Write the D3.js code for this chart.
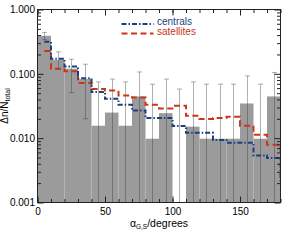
<!DOCTYPE html>
<html>
<head>
<meta charset="utf-8">
<script src="https://cdnjs.cloudflare.com/ajax/libs/d3/7.8.5/d3.min.js"></script>
<style>
body { margin: 0; background: #fff; }
text { font-family: "Liberation Sans", Arial, sans-serif; }
</style>
</head>
<body>
<div id="chart"></div>
<script>
//DATA: 10 degree bins, fractions of the total
var binCentres = [5, 15, 25, 35, 45, 55, 65, 75, 85, 95, 105, 115, 125, 135, 145, 155, 165, 175];
var allFrac = [0.39, 0.165, 0.12, 0.083, 0.0156, 0.025, 0.0156, 0.0445, 0.0098, 0.0245, 0,
               0.0151, 0.0098, 0.0098, 0.0098, 0.0346, 0.0098, 0.0445];
var errHigh = [0.44, 0.22, 0.169, 0.141, 0.075, 0.083, 0.075, 0.107, 0.069, 0.083, 0.058,
               0.075, 0.069, 0.069, 0.069, 0.093, 0.069, 0.105];
var errLow = [0.34, 0.118, 0.051, 0.020, 0, 0, 0, 0, 0, 0, 0, 0, 0, 0, 0, 0, 0, 0];

//step lines have one extra point past 180, only its drop at the edge is seen
var lineAngles = [5, 15, 25, 35, 45, 55, 65, 75, 85, 95, 105, 115, 125, 135, 145, 155, 165, 175, 185];
var centrals = [0.315, 0.172, 0.13, 0.085, 0.052, 0.041, 0.033, 0.027, 0.0205, 0.0205, 0.0155,
                0.0121, 0.0121, 0.0094, 0.0085, 0.0085, 0.0054, 0.0049, 0.002];
var satellites = [0.227, 0.12, 0.11, 0.072, 0.058, 0.055, 0.046, 0.043, 0.033, 0.029, 0.032,
                  0.0223, 0.0198, 0.0205, 0.0216, 0.0156, 0.0113, 0.0079, 0.006];

var xTicks = [0, 50, 100, 150];
var xMinor = d3.range(0, 181, 10);
var yTicks = [0.001, 0.01, 0.1, 1];
var yTickLabels = ["0.001", "0.010", "0.100", "1.000"];

var W = 293, H = 241;
var plot = {left: 37.5, right: 280.5, top: 9.5, bottom: 202.5};

var svg = d3.select("#chart").append("svg")
  .attr("width", W)
  .attr("height", H);

var xScale = d3.scaleLinear().domain([0, 180]).range([plot.left, plot.right]);
var yScale = d3.scaleLog().domain([0.001, 1]).range([plot.bottom, plot.top]);

var yMinor = [];
[0.001, 0.01, 0.1].forEach(function(d) {
  for (var k = 2; k <= 9; k++) yMinor.push(d * k);
});

svg.append("clipPath").attr("id", "clip")
  .append("rect")
  .attr("x", plot.left).attr("y", plot.top)
  .attr("width", plot.right - plot.left)
  .attr("height", plot.bottom - plot.top);

//GREY HISTOGRAM
svg.append("g").selectAll("rect")
  .data(binCentres.filter(function(d, i) { return allFrac[i] > 0; }))
  .enter().append("rect")
  .attr("x", function(d) { return xScale(d - 5); })
  .attr("width", function(d) { return xScale(d + 5) - xScale(d - 5); })
  .attr("y", function(d) { return yScale(allFrac[binCentres.indexOf(d)]); })
  .attr("height", function(d) { return plot.bottom - yScale(allFrac[binCentres.indexOf(d)]); })
  .attr("fill", "#9b9b9b");

//ERROR BARS
var errG = svg.append("g").attr("clip-path", "url(#clip)")
  .attr("stroke", "rgba(50,50,50,0.38)").attr("stroke-width", 1);

binCentres.forEach(function(c, i) {
  var x = Math.round(xScale(c)) + 0.5;
  var yTop = yScale(errHigh[i]);
  var yBot = errLow[i] > 0 ? yScale(errLow[i]) : plot.bottom;
  errG.append("line").attr("x1", x).attr("x2", x).attr("y1", yTop).attr("y2", yBot);
  errG.append("line").attr("x1", x - 2.5).attr("x2", x + 2.5).attr("y1", yTop).attr("y2", yTop);
  if (errLow[i] > 0) {
    errG.append("line").attr("x1", x - 2.5).attr("x2", x + 2.5).attr("y1", yBot).attr("y2", yBot);
  }
});

//STEP LINES
var step = d3.line()
  .x(function(d) { return xScale(d[0]); })
  .y(function(d) { return yScale(d[1]); })
  .curve(d3.curveStep);

var blue = "#1c3f7e", red = "#cc3518";
var blueDash = "5,2,1.5,2", redDash = "6,3.5";

svg.append("path")
  .attr("clip-path", "url(#clip)")
  .attr("d", step(lineAngles.map(function(a, i) { return [a, satellites[i]]; })))
  .attr("fill", "none").attr("stroke", red).attr("stroke-width", 2)
  .attr("stroke-dasharray", redDash);

svg.append("path")
  .attr("clip-path", "url(#clip)")
  .attr("d", step(lineAngles.map(function(a, i) { return [a, centrals[i]]; })))
  .attr("fill", "none").attr("stroke", blue).attr("stroke-width", 2)
  .attr("stroke-dasharray", blueDash);

//AXES (ticks point inwards, frame drawn separately)
function styleAxis(g) {
  g.select(".domain").remove();
  g.selectAll(".tick line").attr("stroke", "#222");
  g.selectAll("text").attr("font-size", 10).attr("fill", "#000")
    .attr("font-family", "'Liberation Sans', Arial, sans-serif");
}

svg.append("g").attr("transform", "translate(0," + plot.bottom + ")")
  .call(d3.axisBottom(xScale).tickValues(xMinor).tickSize(-3.5).tickFormat(""))
  .call(styleAxis);
svg.append("g").attr("transform", "translate(0," + plot.bottom + ")")
  .call(d3.axisBottom(xScale).tickValues(xTicks).tickSize(-6).tickPadding(5.5).tickFormat(d3.format("d")))
  .call(styleAxis);
svg.append("g").attr("transform", "translate(0," + plot.top + ")")
  .call(d3.axisTop(xScale).tickValues(xMinor).tickSize(-3.5).tickFormat(""))
  .call(styleAxis);
svg.append("g").attr("transform", "translate(0," + plot.top + ")")
  .call(d3.axisTop(xScale).tickValues(xTicks).tickSize(-6).tickFormat(""))
  .call(styleAxis);

svg.append("g").attr("transform", "translate(" + plot.left + ",0)")
  .call(d3.axisLeft(yScale).tickValues(yMinor).tickSize(-3.5).tickFormat(""))
  .call(styleAxis);
svg.append("g").attr("transform", "translate(" + plot.left + ",0)")
  .call(d3.axisLeft(yScale).tickValues(yTicks).tickSize(-6).tickPadding(2.5)
    .tickFormat(function(d, i) { return yTickLabels[i]; }))
  .call(styleAxis);
svg.append("g").attr("transform", "translate(" + plot.right + ",0)")
  .call(d3.axisRight(yScale).tickValues(yMinor).tickSize(-3.5).tickFormat(""))
  .call(styleAxis);
svg.append("g").attr("transform", "translate(" + plot.right + ",0)")
  .call(d3.axisRight(yScale).tickValues(yTicks).tickSize(-6).tickFormat(""))
  .call(styleAxis);

svg.append("rect")
  .attr("x", plot.left).attr("y", plot.top)
  .attr("width", plot.right - plot.left).attr("height", plot.bottom - plot.top)
  .attr("fill", "none").attr("stroke", "#222").attr("stroke-width", 1);

//AXIS LABELS
var xLab = svg.append("text")
  .attr("x", (plot.left + plot.right) / 2).attr("y", 227)
  .attr("text-anchor", "middle").attr("font-size", 10.5);
xLab.append("tspan").text("\u03b1");
xLab.append("tspan").attr("font-size", 6.5).attr("dy", 2).text("G,S");
xLab.append("tspan").attr("dy", -2).text("/degrees");

var yLab = svg.append("text")
  .attr("transform", "translate(8," + (plot.top + plot.bottom) / 2 + ") rotate(-90)")
  .attr("text-anchor", "middle").attr("font-size", 10);
yLab.append("tspan").text("\u0394n/N");
yLab.append("tspan").attr("font-size", 7).attr("dy", 2).text("total");

//LEGEND
var legend = [
  {name: "centrals", color: blue, dash: blueDash, y: 25},
  {name: "satellites", color: red, dash: redDash, y: 34.5}
];
legend.forEach(function(d) {
  svg.append("line")
    .attr("x1", 121.5).attr("x2", 153.5)
    .attr("y1", d.y - 1).attr("y2", d.y - 1)
    .attr("stroke", d.color).attr("stroke-width", 2)
    .attr("stroke-dasharray", d.dash);
  svg.append("text")
    .attr("x", 157).attr("y", d.y)
    .attr("font-size", 10).attr("fill", d.color)
    .text(d.name);
});
</script>
</body>
</html>
